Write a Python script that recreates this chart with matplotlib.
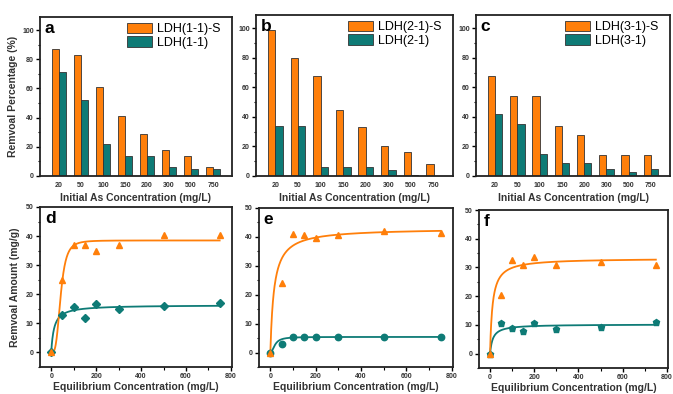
import numpy as np
import matplotlib
matplotlib.use("Agg")
import matplotlib.pyplot as plt
from matplotlib.ticker import MultipleLocator

plt.rcParams['font.family'] = ['Liberation Sans', 'DejaVu Sans']

ORANGE = '#FF7F0A'
TEAL = '#0E7B76'

# ---- bar data (Removal percentage, %) ----
categories = ['20', '50', '100', '150', '200', '300', '500', '750']
a_S = [87, 83, 61, 41, 29, 18, 14, 6]
a_P = [71, 52, 22, 14, 14, 6, 5, 5]
b_S = [99, 80, 68, 45, 33, 20, 16, 8]
b_P = [34, 34, 6, 6, 6, 4, 1, 0]
c_S = [68, 54, 54, 34, 28, 14, 14, 14]
c_P = [42, 35, 15, 9, 9, 5, 3, 5]
bar_labels = [('LDH(1-1)-S', 'LDH(1-1)'), ('LDH(2-1)-S', 'LDH(2-1)'), ('LDH(3-1)-S', 'LDH(3-1)')]

# ---- isotherm data (Removal amount, mg/g) ----
ce = [0, 50, 100, 150, 200, 300, 500, 750]
d_S = [0, 25, 37, 37, 35, 37, 40.5, 40.5]
d_P = [0, 13, 15.5, 12, 16.5, 15, 16, 17]
e_S = [0, 24, 41, 40.5, 39.5, 40.5, 42, 41.5]
e_P = [0, 3, 5.5, 5.3, 5.3, 5.3, 5.3, 5.3]
f_S = [0, 20.5, 32.5, 31, 33.5, 31, 32, 31]
f_P = [0, 10.5, 9, 8, 10.5, 8.5, 9.3, 11]

# fitted (Sips-type) parameters: qm, K, n
d_fit_S = (38.5, 0.0239, 3.5)
d_fit_P = (16.3, 0.08, 1.0)
e_fit_S = (43.0, 0.0617, 1.0)
e_fit_P = (5.4, 0.048, 2.0)
f_fit_S = (33.2, 0.09, 1.0)
f_fit_P = (10.2, 0.08, 1.0)

W, H = 673, 394
fig = plt.figure(figsize=(W / 100, H / 100), dpi=100)


def box(l, r, t, b):
    return [l / W, 1 - b / H, (r - l) / W, (b - t) / H]


def style(ax):
    for s in ax.spines.values():
        s.set_linewidth(1.3)
        s.set_color('#222222')
    ax.tick_params(axis='both', which='major', direction='out', length=3, width=1,
                   labelsize=5, pad=1.5)
    ax.tick_params(axis='both', which='minor', direction='out', length=1.8, width=0.8)
    ax.tick_params(top=False, right=False)
    for lbl in ax.get_xticklabels() + ax.get_yticklabels():
        lbl.set_fontweight('bold')
        lbl.set_color('#333333')


bar_pos = [box(40, 232, 17, 176), box(256, 453, 15, 176), box(476, 670, 15, 176)]
bar_data = [(a_S, a_P), (b_S, b_P), (c_S, c_P)]
letters_top = ['a', 'b', 'c']
x = np.arange(len(categories))
bw = 0.33
for i in range(3):
    ax = fig.add_axes(bar_pos[i])
    S, P = bar_data[i]
    ax.bar(x - bw / 2, S, bw, color=ORANGE, edgecolor='#333333', linewidth=0.6,
           label=bar_labels[i][0])
    ax.bar(x + bw / 2, P, bw, color=TEAL, edgecolor='#333333', linewidth=0.6,
           label=bar_labels[i][1])
    ax.set_xlim(-0.86, len(categories) - 1 + 0.86)
    ax.set_ylim(0, 109)
    ax.set_xticks(x)
    ax.set_xticklabels(categories)
    ax.yaxis.set_major_locator(MultipleLocator(20))
    ax.yaxis.set_minor_locator(MultipleLocator(10))
    style(ax)
    ax.tick_params(axis='x', which='both', length=0, pad=4)
    ax.set_xlabel('Initial As Concentration (mg/L)', fontsize=7.5, fontweight='bold',
                  color='#333333', labelpad=3)
    if i == 0:
        ax.set_ylabel('Remvoal Percentage (%)', fontsize=7.5, fontweight='bold',
                      color='#333333', labelpad=3)
    ax.text(0.025, 0.975, letters_top[i], transform=ax.transAxes, fontsize=12.5,
            fontweight='bold', va='top', ha='left')
    ax.legend(loc='upper right', bbox_to_anchor=(0.985, 1.02), fontsize=9,
              frameon=False, handlelength=2.0, handleheight=0.9,
              handletextpad=0.4, labelspacing=0.1, borderaxespad=0.3)

iso_pos = [box(40, 232, 207, 367), box(259, 453, 208, 367), box(479, 668, 210, 368)]
iso_data = [(d_S, d_P, d_fit_S, d_fit_P, 'D'), (e_S, e_P, e_fit_S, e_fit_P, 'o'),
            (f_S, f_P, f_fit_S, f_fit_P, 'p')]
letters_bot = ['d', 'e', 'f']
xx = np.linspace(0, 750, 600)
for i in range(3):
    ax = fig.add_axes(iso_pos[i])
    S, P, fS, fP, mk = iso_data[i]
    for fit, col in ((fP, TEAL), (fS, ORANGE)):
        qm, K, n = fit
        t = (K * xx) ** n
        ax.plot(xx, qm * t / (1 + t), color=col, lw=1.3)
    ax.plot(ce, P, ls='none', marker=mk, color=TEAL, ms=4.6 if mk != 'D' else 4.0)
    ax.plot(ce, S, ls='none', marker='^', color=ORANGE, ms=5)
    ax.set_xlim(-50, 805)
    ax.set_ylim(-5, 50)
    ax.xaxis.set_major_locator(MultipleLocator(200))
    ax.xaxis.set_minor_locator(MultipleLocator(100))
    ax.yaxis.set_major_locator(MultipleLocator(10))
    ax.yaxis.set_minor_locator(MultipleLocator(5))
    style(ax)
    ax.set_xlabel('Equilibrium Concentration (mg/L)', fontsize=7.5, fontweight='bold',
                  color='#333333', labelpad=1.5)
    if i == 0:
        ax.set_ylabel('Remvoal Amount (mg/g)', fontsize=7.5, fontweight='bold',
                      color='#333333', labelpad=4)
    ax.text(0.025, 0.975, letters_bot[i], transform=ax.transAxes, fontsize=12.5,
            fontweight='bold', va='top', ha='left')

fig.savefig('out.png', dpi=100)
